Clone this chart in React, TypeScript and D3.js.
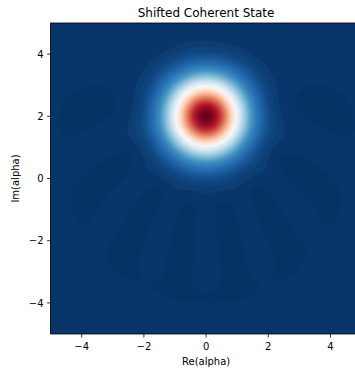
import React, { useMemo } from 'react';
import * as d3 from 'd3';

// ---- chart content ----
const title = ['Shifted Coherent State'];
const xLabel = ['Re(alpha)'];
const yLabel = ['Im(alpha)'];
const axisRange = [-5, 5];
const gridPoints = [200];
const xTicks = [-4, -2, 0, 2, 4];
const yTicks = [-4, -2, 0, 2, 4];
// state: truncated-Fock coherent state |alpha>, alpha = alphaRe + i*alphaIm
const alphaRe = [0];
const alphaIm = [1.225];
const fockDim = [9];
const wignerG = [1.225];
const levelCount = [100];
// matplotlib RdBu_r anchor colours
const rdbuR = ['#053061', '#2166ac', '#4393c3', '#92c5de', '#d1e5f0', '#f7f7f7', '#fddbc7', '#f4a582', '#d6604d', '#b2182b', '#67001f'];

function coherentTrunc(N: number, ar: number, ai: number) {
  let vr = new Float64Array(N), vi = new Float64Array(N);
  vr[0] = 1;
  const S = 64;
  const br = ar / S, bi = ai / S;
  for (let s = 0; s < S; s++) {
    let tr = Float64Array.from(vr), ti = Float64Array.from(vi);
    const sr = Float64Array.from(vr), si = Float64Array.from(vi);
    for (let k = 1; k < 30; k++) {
      const nr = new Float64Array(N), ni = new Float64Array(N);
      for (let n = 0; n < N; n++) {
        let rr = 0, ii = 0;
        if (n > 0) { const c = Math.sqrt(n); rr += c * (br * tr[n - 1] - bi * ti[n - 1]); ii += c * (br * ti[n - 1] + bi * tr[n - 1]); }
        if (n < N - 1) { const c = Math.sqrt(n + 1); rr -= c * (br * tr[n + 1] + bi * ti[n + 1]); ii -= c * (br * ti[n + 1] - bi * tr[n + 1]); }
        nr[n] = rr / k; ni[n] = ii / k;
      }
      tr = nr; ti = ni;
      for (let n = 0; n < N; n++) { sr[n] += tr[n]; si[n] += ti[n]; }
    }
    vr = sr; vi = si;
  }
  return [vr, vi];
}

function wig(pr: Float64Array, pi: Float64Array, g: number, x: number, y: number) {
  const N = pr.length;
  const Ar = g / 2 * x, Ai = g / 2 * y;
  const B = 4 * (Ar * Ar + Ai * Ai);
  let W = 0;
  let pkr = 1, pki = 0;
  for (let k = 0; k < N; k++) {
    let Lm1 = 0, L = 1;
    let fr = 1;
    for (let j = 1; j <= k; j++) fr /= Math.sqrt(j);
    for (let m = 0; m + k < N; m++) {
      if (m === 1) { Lm1 = 1; L = 1 + k - B; }
      else if (m > 1) { const Ln = ((2 * (m - 1) + 1 + k - B) * L - (m - 1 + k) * Lm1) / m; Lm1 = L; L = Ln; }
      const n = m + k;
      const rr = pr[m] * pr[n] + pi[m] * pi[n];
      const ri = pi[m] * pr[n] - pr[m] * pi[n];
      const sgn = m % 2 === 0 ? 1 : -1;
      if (k === 0) W += rr * sgn * L;
      else W += 2 * (rr * pkr - ri * pki) * sgn * fr * L;
      fr *= Math.sqrt((m + 1) / (n + 1));
    }
    const nr = pkr * 2 * Ar - pki * 2 * Ai, ni = pkr * 2 * Ai + pki * 2 * Ar;
    pkr = nr; pki = ni;
  }
  return 0.5 * W * g * g * Math.exp(-B / 2) / Math.PI;
}

function maxNLevels(zmin: number, zmax: number, nbins: number) {
  const raw = (zmax - zmin) / nbins;
  const scale = Math.pow(10, Math.floor(Math.log10(raw)));
  let step = 10 * scale;
  for (const s of [1, 2, 2.5, 5, 10]) if (s * scale >= raw * (1 - 1e-9)) { step = s * scale; break; }
  const lo = Math.floor(zmin / step + 1e-9);
  const hi = Math.ceil(zmax / step - 1e-9);
  return d3.range(lo, hi + 1).map(i => i * step);
}

const anchorRgb = rdbuR.map(c => d3.rgb(c));
function cmap(t: number) {
  const idx = Math.max(0, Math.min(255, Math.floor(t * 256)));
  const u = idx / 255 * (anchorRgb.length - 1);
  const k = Math.min(anchorRgb.length - 2, Math.floor(u));
  const f = u - k;
  const a = anchorRgb[k], b = anchorRgb[k + 1];
  return d3.rgb(a.r + (b.r - a.r) * f, a.g + (b.g - a.g) * f, a.b + (b.b - a.b) * f).formatHex();
}

const W_ = 355, H_ = 374;
const plotL = 50.6, plotT = 23, plotSize = 311;
const fontFam = '"DejaVu Sans", sans-serif';

export default function App() {
  const xScale = d3.scaleLinear().domain(axisRange).range([plotL, plotL + plotSize]);
  const yScale = d3.scaleLinear().domain(axisRange).range([plotT + plotSize, plotT]);

  const layers = useMemo(() => {
    const n = gridPoints[0];
    const step = (axisRange[1] - axisRange[0]) / (n - 1);
    const [pr, pi] = coherentTrunc(fockDim[0], alphaRe[0], alphaIm[0]);
    const values = new Float64Array(n * n);
    let mn = Infinity, mx = -Infinity;
    for (let j = 0; j < n; j++) {
      const y = axisRange[1] - j * step;
      for (let i = 0; i < n; i++) {
        const x = axisRange[0] + i * step;
        const w = wig(pr, pi, wignerG[0], x, y);
        values[j * n + i] = w;
        if (w < mn) mn = w;
        if (w > mx) mx = w;
      }
    }
    const levels = maxNLevels(mn, mx, levelCount[0] + 1);
    const lo = levels[0], hi = levels[levels.length - 1];
    const contours = d3.contours().size([n, n]).thresholds(levels.slice(0, -1))(Array.from(values));
    const proj = d3.geoTransform({
      point(cx: number, cy: number) {
        (this as any).stream.point(
          xScale(axisRange[0] + (cx - 0.5) * step),
          yScale(axisRange[1] - (cy - 0.5) * step)
        );
      }
    });
    const path = d3.geoPath(proj);
    return contours.map((c, i) => {
      const mid = 0.5 * (levels[i] + levels[i + 1]);
      return { d: path(c as any) || '', fill: cmap((mid - lo) / (hi - lo)) };
    });
  }, []);

  const axisBottom = plotT + plotSize;
  const tickLen = 3.5;
  return (
    <div style={{ position: 'absolute', left: 0, top: 0 }}>
      <svg width={W_} height={H_} style={{ display: 'block', background: '#fff' }} fontFamily={fontFam}>
        <defs>
          <clipPath id="plotclip">
            <rect x={plotL} y={plotT} width={plotSize} height={plotSize} />
          </clipPath>
        </defs>
        <g clipPath="url(#plotclip)">
          {layers.map((l, i) => <path key={i} d={l.d} fill={l.fill} stroke="none" />)}
        </g>
        <rect x={plotL} y={plotT} width={plotSize} height={plotSize} fill="none" stroke="#000" strokeWidth={0.8} />
        {xTicks.map(t => (
          <g key={'x' + t}>
            <line x1={xScale(t)} x2={xScale(t)} y1={axisBottom} y2={axisBottom + tickLen} stroke="#000" strokeWidth={0.8} />
            <text x={xScale(t)} y={axisBottom + tickLen + 3.5 + 9.3} fontSize={10} textAnchor="middle" fill="#000">
              {t < 0 ? '\u2212' + Math.abs(t) : String(t)}
            </text>
          </g>
        ))}
        {yTicks.map(t => (
          <g key={'y' + t}>
            <line x1={plotL - tickLen} x2={plotL} y1={yScale(t)} y2={yScale(t)} stroke="#000" strokeWidth={0.8} />
            <text x={plotL - tickLen - 3.5} y={yScale(t) + 3.6} fontSize={10} textAnchor="end" fill="#000">
              {t < 0 ? '\u2212' + Math.abs(t) : String(t)}
            </text>
          </g>
        ))}
        <text x={plotL + plotSize / 2} y={365} fontSize={10} textAnchor="middle" fill="#000">{xLabel[0]}</text>
        <text transform={`translate(${19},${plotT + plotSize / 2}) rotate(-90)`} fontSize={10} textAnchor="middle" fill="#000">{yLabel[0]}</text>
        <text x={plotL + plotSize / 2} y={16.5} fontSize={12} textAnchor="middle" fill="#000">{title[0]}</text>
      </svg>
    </div>
  );
}
